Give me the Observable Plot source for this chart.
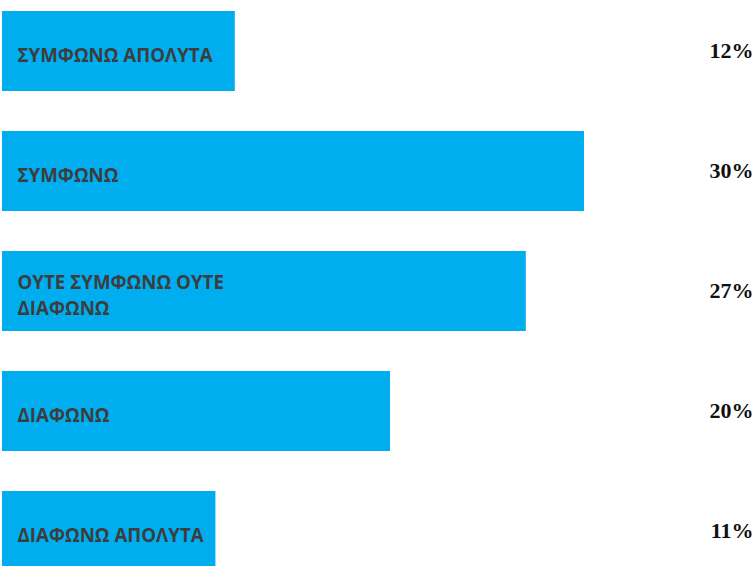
<!DOCTYPE html>
<html>
<head>
<meta charset="utf-8">
<script src="https://cdn.jsdelivr.net/npm/d3@7"></script>
<script src="https://cdn.jsdelivr.net/npm/@observablehq/plot@0.6"></script>
<style>
  html, body { margin: 0; padding: 0; background: #fff; }
  #chart svg { display: block; }
</style>
</head>
<body>
<div id="chart"></div>
<script>
const categories = ["ΣΥΜΦΩΝΩ ΑΠΟΛΥΤΑ", "ΣΥΜΦΩΝΩ", "ΟΥΤΕ ΣΥΜΦΩΝΩ ΟΥΤΕ ΔΙΑΦΩΝΩ", "ΔΙΑΦΩΝΩ", "ΔΙΑΦΩΝΩ ΑΠΟΛΥΤΑ"];
const labels = ["ΣΥΜΦΩΝΩ ΑΠΟΛΥΤΑ", "ΣΥΜΦΩΝΩ", "ΟΥΤΕ ΣΥΜΦΩΝΩ ΟΥΤΕ\nΔΙΑΦΩΝΩ", "ΔΙΑΦΩΝΩ", "ΔΙΑΦΩΝΩ ΑΠΟΛΥΤΑ"];
const values = [12, 30, 27, 20, 11];

const data = categories.map((c, i) => ({category: c, label: labels[i], value: values[i]}));

const chart = Plot.plot({
  width: 756,
  height: 566,
  marginTop: 0,
  marginBottom: 0,
  marginLeft: 0,
  marginRight: 3,
  x: {domain: [0, 30], range: [2, 584], axis: null},
  y: {domain: categories, range: [-10, 591], paddingInner: 0.3347, paddingOuter: 0.1674, axis: null},
  marks: [
    Plot.barX(data, {x: "value", y: "category", fill: "#00aeef"}),
    Plot.text(data, {
      x: 0, y: "category", text: "label", textAnchor: "start", dx: 15, dy: 2,
      fill: "#3d3d3d", fontSize: 18.7, fontWeight: 700, fontFamily: "Open Sans", lineHeight: 1.42
    }),
    Plot.text(data, {
      y: "category", frameAnchor: "right", text: d => d.value + "%", textAnchor: "end", dy: -1,
      fill: "#111", fontSize: 22, fontWeight: 700, fontFamily: "Liberation Serif"
    })
  ]
});
document.getElementById("chart").appendChild(chart);
</script>
</body>
</html>
